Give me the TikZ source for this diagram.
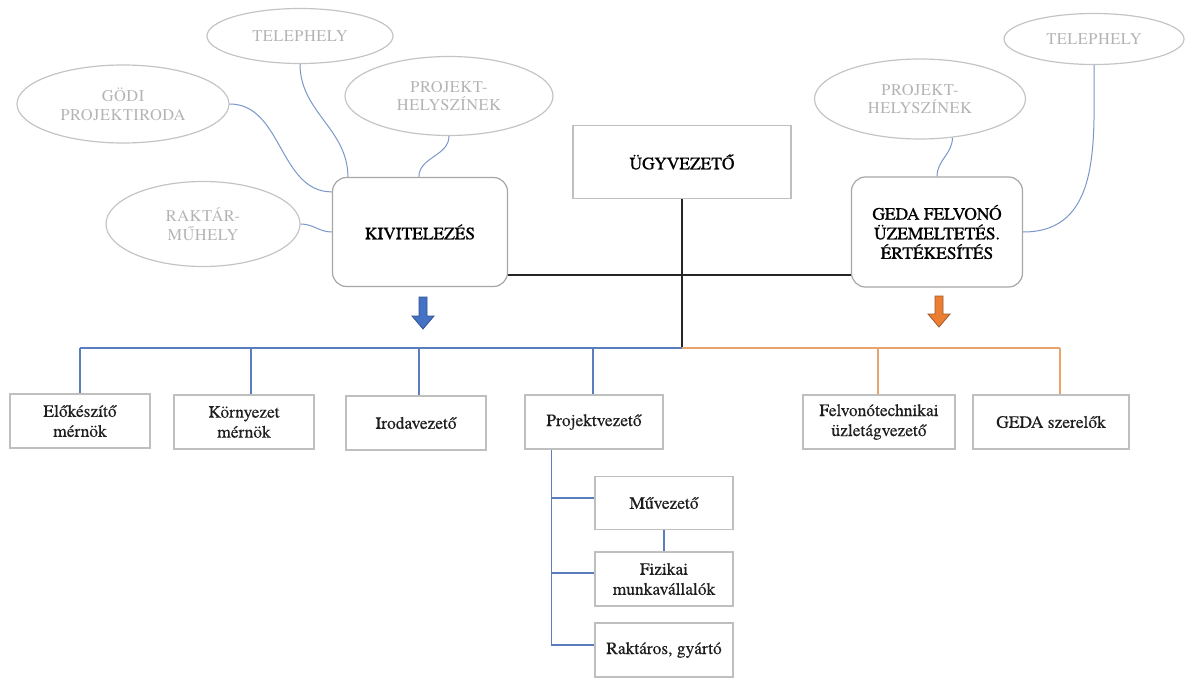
\documentclass[tikz,border=0pt]{standalone}
\usepackage{fontspec}
\setmainfont{texgyretermes-regular.otf}[BoldFont=texgyretermes-bold.otf]
\newfontfamily\topf{texgyretermes-regular.otf}[FakeBold=0.9]
\newfontfamily\lowf{texgyretermes-regular.otf}[FakeBold=0.4]
\newfontfamily\ellf{texgyretermes-regular.otf}[LetterSpace=3]
\usetikzlibrary{shapes.geometric,calc}
\definecolor{ellgray}{HTML}{C4C4C4}
\definecolor{elltext}{HTML}{B4B4B4}
\definecolor{rgray}{HTML}{A6A6A6}
\definecolor{boxgray}{HTML}{BFBFBF}
\definecolor{txt}{HTML}{1E1E1E}
\definecolor{linkblue}{HTML}{7B97C9}
\definecolor{trunkblue}{HTML}{5A7DBE}
\definecolor{trunkorange}{HTML}{E9A46E}
\definecolor{arrblue}{HTML}{4472C4}
\definecolor{arrblueline}{HTML}{2F528F}
\definecolor{arrorange}{HTML}{ED7D31}
\definecolor{arrorangeline}{HTML}{9C5A2E}
\begin{document}
\begin{tikzpicture}[x=0.5pt,y=-0.5pt,
  ell/.style={ellipse, draw=ellgray, line width=0.6pt, text=elltext,
    font=\ellf\fontsize{8.2}{9.4}\selectfont, align=center, inner sep=0pt},
  rbox/.style={rectangle, rounded corners=7pt, draw=rgray, line width=0.6pt,
    font=\topf\fontsize{8.7}{9.8}\selectfont, align=center, text=black, inner sep=0pt},
  sbox/.style={rectangle, draw=boxgray, line width=0.7pt,
    font=\lowf\fontsize{8.7}{10}\selectfont, align=center, text=txt, inner sep=0pt,
    minimum height=27pt},
  link/.style={draw=linkblue, line width=0.5pt},
  bline/.style={draw=black!85, line width=1pt},
  btrunk/.style={draw=trunkblue, line width=1pt},
  bsub/.style={draw=trunkblue, line width=0.8pt},
  otrunk/.style={draw=trunkorange, line width=1pt}
]
\useasboundingbox (0,0) rectangle (1186,679);

% ellipses
\node[ell, minimum width=93pt, minimum height=27.5pt] (telL) at (300,36) {TELEPHELY};
\node[ell, minimum width=106pt, minimum height=39pt] (godi) at (123,104) {GÖDI\\PROJEKTIRODA};
\node[ell, minimum width=104pt, minimum height=39.5pt] (projL) at (449,96) {PROJEKT-\\HELYSZÍNEK};
\node[ell, minimum width=97pt, minimum height=42.5pt] (raktar) at (203,224) {RAKTÁR-\\MŰHELY};
\node[ell, minimum width=105.5pt, minimum height=40pt] (projR) at (920,99) {PROJEKT-\\HELYSZÍNEK};
\node[ell, minimum width=90pt, minimum height=25.5pt] (telR) at (1094,39) {TELEPHELY};

% top boxes
\node[rbox, minimum width=87.5pt, minimum height=54.5pt] (kiv) at (420,232) {KIVITELEZÉS};
\node[rectangle, draw=boxgray, line width=0.7pt, minimum width=109pt, minimum height=36.5pt,
  font=\topf\fontsize{8.7}{9.8}\selectfont, text=black] (ugy) at (682,162) {ÜGYVEZETŐ};
\node[rbox, minimum width=85.5pt, minimum height=55pt] (geda) at (937,232) {GEDA FELVONÓ\\ÜZEMELTETÉS.\\ÉRTÉKESÍTÉS};

% lower boxes
\node[sbox, minimum width=70pt] (elo) at (80,421) {Előkészítő\\mérnök};
\node[sbox, minimum width=70pt] (kor) at (244,422) {Környezet\\mérnök};
\node[sbox, minimum width=70pt] (iro) at (416,423) {Irodavezető};
\node[sbox, minimum width=69pt] (pv) at (594,422) {Projektvezető};
\node[sbox, minimum width=76pt] (fel) at (879,422) {Felvonótechnikai\\üzletágvezető};
\node[sbox, minimum width=78pt] (gsz) at (1051,422) {GEDA szerelők};
\node[sbox, minimum width=69pt, minimum height=26.5pt] (muv) at (664,503) {Művezető};
\node[sbox, minimum width=69pt] (fiz) at (664,579) {Fizikai\\munkavállalók};
\node[sbox, minimum width=69pt] (rak) at (664,650) {Raktáros, gyártó};

% thin blue links
\draw[link] (godi.east) to[out=0,in=180] ($(kiv.north west)+(0,15)$);
\draw[link] (telL.south) to[out=-90,in=90] ($(kiv.north west)+(16,0)$);
\draw[link] (projL.south) to[out=-90,in=90] ($(kiv.north west)+(87,0)$);
\draw[link] (raktar.east) to[out=0,in=180] (kiv.west);
\draw[link] (projR.-50) to[out=-90,in=90] (geda.north);
\draw[link] (telR.south) to[out=-90,in=0,looseness=1.1] (geda.east);

% black lines
\coordinate (hub) at (682,348);
\coordinate (hl) at ($(kiv.south east)+(0,-12)$);
\draw[bline] (hl) -- (hl -| geda.west);
\draw[bline] (ugy.south) -- (hub);

% blue trunk
\coordinate (b1) at (80,348);
\coordinate (b2) at (251,348);
\coordinate (b3) at (419,348);
\coordinate (b4) at (593,348);
\draw[btrunk] (hub) -- (b1);
\draw[btrunk] (b1) -- (b1 |- elo.north);
\draw[btrunk] (b2) -- (b2 |- kor.north);
\draw[btrunk] (b3) -- (b3 |- iro.north);
\draw[btrunk] (b4) -- (b4 |- pv.north);

% orange trunk
\coordinate (o1) at (878,348);
\coordinate (o2) at (1060,348);
\draw[otrunk] (hub) -- (o2);
\draw[otrunk] (o1) -- (o1 |- fel.north);
\draw[otrunk] (o2) -- (o2 |- gsz.north);

% project sub-tree
\coordinate (st) at ($(pv.south west)+(27,0)$);
\draw[bsub] (st) -- ($(st |- rak.west)+(0,-5)$);
\draw[bsub] ($(st |- muv.west)+(0,-5)$) -- ($(muv.west)+(0,-5)$);
\draw[bsub] ($(st |- fiz.west)+(0,-6)$) -- ($(fiz.west)+(0,-6)$);
\draw[bsub] ($(st |- rak.west)+(0,-5)$) -- ($(rak.west)+(0,-5)$);
\draw[bsub] (muv.south) -- (fiz.north);

% arrows
\filldraw[fill=arrblue, draw=arrblueline, line width=0.4pt]
  (419,297) -- (427,297) -- (427,316) -- (434,316) -- (423,329) -- (412,316) -- (419,316) -- cycle;
\filldraw[fill=arrorange, draw=arrorangeline, line width=0.4pt]
  (935,296) -- (943,296) -- (943,314) -- (950,314) -- (939,327) -- (928,314) -- (935,314) -- cycle;
\end{tikzpicture}
\end{document}
